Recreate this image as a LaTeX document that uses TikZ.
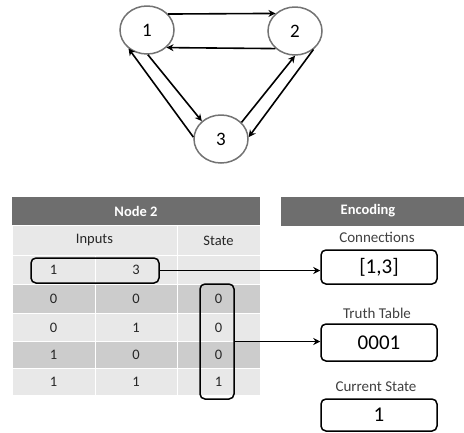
\documentclass[tikz,border=0pt]{standalone}
\usepackage{fontspec}
\setmainfont{Carlito}
\usetikzlibrary{shapes.geometric,arrows.meta}
\begin{document}
\begin{tikzpicture}[x=1pt,y=-1pt,
  gnode/.style={ellipse,draw=black!55,line width=1.5pt,minimum width=54pt,minimum height=48pt,inner sep=0pt,font=\fontsize{19}{19}\selectfont},
  edge/.style={line width=1.6pt,-{Stealth[length=7pt,width=7pt]}},
  hdr/.style={fill=black!57,draw=none},
  lt/.style={fill=black!9,draw=white,line width=1pt},
  dk/.style={fill=black!20,draw=white,line width=1pt},
  celltxt/.style={font=\fontsize{14.5}{14.5}\selectfont,text=black!85},
  hdrtxt/.style={font=\fontsize{14.5}{14.5}\selectfont\bfseries,text=white},
  rbox/.style={draw=black,line width=1.5pt,rounded corners=5pt,inner sep=0pt},
  enc/.style={rbox,minimum width=116pt,font=\fontsize{21}{21}\selectfont},
  lbl/.style={font=\fontsize{15}{15}\selectfont,text=black!75},
  conn/.style={line width=1.6pt,-{Stealth[length=7pt,width=7pt]}}]
\useasboundingbox (0,0) rectangle (464,432);
% graph
\node[gnode] (n1) at (147,30) {1};
\node[gnode] (n2) at (295,31) {2};
\node[gnode] (n3) at (221,139) {3};
\draw[edge] (n1.37) -- (n2.138);
\draw[edge] (n2.-138) -- (n1.-42);
\draw[edge] (n1.-88) -- (n3.137);
\draw[edge] (n3.176) -- (n1.-135);
\draw[edge] (n3.39) -- (n2.-90);
\draw[edge] (n2.-45) -- (n3.4);
% table
\fill[hdr] (12,197) rectangle (260,225.5);
\node[hdrtxt] (t0) at (136,211) {Node 2};
\draw[lt] (12,225.5) rectangle (177,255.5);
\draw[lt] (177,225.5) rectangle (260,255.5);
\node[celltxt] (ti) at (94.5,240.5) {Inputs};
\node[celltxt] (ts) at (218.5,240.5) {State};
\foreach \r/\ya/\yb/\st/\a/\b/\c in {1/255.5/284.5/lt/1/3/,2/284.5/313.5/dk/0/0/0,3/313.5/341.5/lt/0/1/0,4/341.5/368.5/dk/1/0/0,5/368.5/395.5/lt/1/1/1}{
  \draw[\st] (12,\ya) rectangle (95,\yb);
  \draw[\st] (95,\ya) rectangle (177,\yb);
  \draw[\st] (177,\ya) rectangle (260,\yb);
  \node[celltxt] (a\r) at (53.5,{(\ya+\yb)/2}) {\a};
  \node[celltxt] (b\r) at (136,{(\ya+\yb)/2}) {\b};
  \node[celltxt] (c\r) at (218.5,{(\ya+\yb)/2}) {\c};
}
\node[rbox,minimum width=128pt,minimum height=25pt] (inbox) at (95,270.5) {};
\node[rbox,minimum width=34pt,minimum height=115pt] (stbox) at (217,341.5) {};
% encoding
\fill[hdr] (281,197) rectangle (464,225.5);
\node[hdrtxt] (e0) at (368,211) {Encoding};
\node[lbl] (l1) at (377,237) {Connections};
\node[enc,minimum height=34pt] (cb) at (379,267) {[1,3]};
\node[lbl] (l2) at (377,313) {Truth Table};
\node[enc,minimum height=37pt] (tb) at (379,342.5) {0001};
\node[lbl] (l3) at (376,387) {Current State};
\node[enc,minimum height=32pt] (sb) at (379,415) {1};
\draw[conn] (inbox.east) -- (inbox.east -| cb.west);
\draw[conn] (stbox.east) -- (stbox.east -| tb.west);
\end{tikzpicture}
\end{document}
